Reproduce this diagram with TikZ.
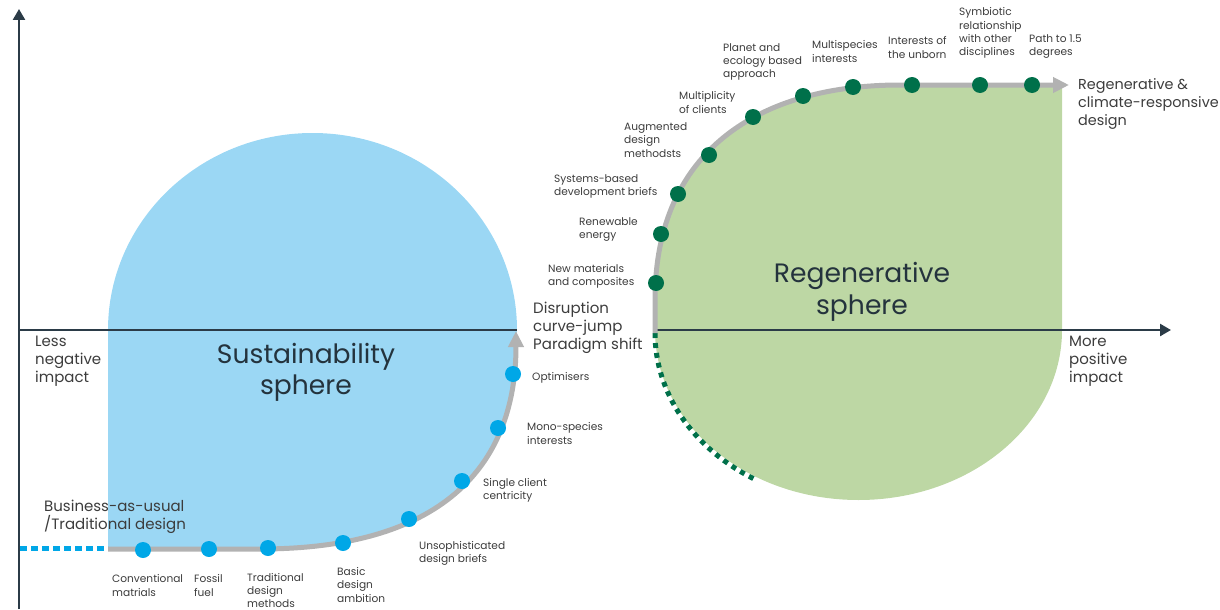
\documentclass[tikz,border=0pt]{standalone}
\usepackage{fontspec}
\setmainfont{Poppins}
\usetikzlibrary{arrows.meta}
\definecolor{axiscol}{HTML}{2B3B47}
\definecolor{txt}{HTML}{3C3C3C}
\definecolor{bigtxt}{HTML}{24333D}
\definecolor{bluefill}{HTML}{9BD7F4}
\definecolor{bluedot}{HTML}{00A7E7}
\definecolor{greenfill}{HTML}{BDD7A4}
\definecolor{greendot}{HTML}{00704A}
\definecolor{pathgrey}{HTML}{B2B2B2}
\begin{document}
\begin{tikzpicture}[x=1pt,y=-1pt,
  axis/.style={draw=axiscol, line width=2.5pt},
  axisarrow/.style={axis, -{Triangle[length=11pt,width=12pt]}},
  greypath/.style={draw=pathgrey, line width=5pt, -{Triangle[length=16pt,width=15pt]}},
  bdot/.style={circle, fill=bluedot, minimum size=16pt, inner sep=0},
  gdot/.style={circle, fill=greendot, minimum size=16pt, inner sep=0},
  small/.style={font=\fontsize{10.6}{13.3}\selectfont, text=txt, align=left, anchor=west, inner sep=0},
  mid/.style={font=\fontsize{15}{18}\selectfont, text=txt, align=left, anchor=west, inner sep=0},
  big/.style={font=\fontsize{26.6}{31.5}\selectfont, text=bigtxt, align=center, inner sep=0}]
\useasboundingbox (0,0) rectangle (1220,610);

% sustainability sphere fill
\fill[bluefill] (108,549) -- (108,330) arc[start angle=180, end angle=360, x radius=204.5, y radius=197]
  -- (516,340) .. controls (516,450) and (460,549) .. (260,549) -- cycle;
% regenerative sphere fill
\fill[greenfill] (655,330) -- (655,300) .. controls (655,150) and (760,85) .. (900,85) -- (1062,85)
  -- (1062,330) arc[start angle=0, end angle=180, x radius=203.5, y radius=170] -- cycle;

% dotted continuations
\draw[bluedot, line width=5pt, dash pattern=on 7pt off 4pt] (20,548) -- (108,548);
\draw[greendot, line width=5pt, dash pattern=on 5pt off 5pt] (655,333) arc[start angle=180, end angle=121, x radius=203.5, y radius=170];

% axes
\coordinate (origin) at (19,330);
\coordinate (ytop) at (19,9);
\coordinate (ybot) at (19,609);
\coordinate (xleftend) at (517,330);
\coordinate (xrightstart) at (653,330);
\coordinate (xend) at (1171,330);
\draw[axisarrow] (ybot) -- (ytop);
\draw[axis] (origin) -- (xleftend);
\draw[axisarrow] (xrightstart) -- (xend);

% grey curves
\draw[greypath] (108,549) -- (260,549) .. controls (460,549) and (516,450) .. (516,331);
\draw[greypath] (655,333) -- (655,300) .. controls (655,150) and (760,85) .. (900,85) -- (1069,85);

% blue dots
\node[bdot] (b1) at (143,550) {};
\node[bdot] (b2) at (209,549) {};
\node[bdot] (b3) at (268,548) {};
\node[bdot] (b4) at (343,543) {};
\node[bdot] (b5) at (409,519) {};
\node[bdot] (b6) at (462,481) {};
\node[bdot] (b7) at (498,428) {};
\node[bdot] (b8) at (513,374) {};

% green dots
\node[gdot] (g1) at (656,283) {};
\node[gdot] (g2) at (661,234) {};
\node[gdot] (g3) at (678,194) {};
\node[gdot] (g4) at (709,155) {};
\node[gdot] (g5) at (753,117) {};
\node[gdot] (g6) at (803,96) {};
\node[gdot] (g7) at (853,87) {};
\node[gdot] (g8) at (912,85) {};
\node[gdot] (g9) at (980,85) {};
\node[gdot] (g10) at (1032,85) {};

% big labels
\node[big] (sust) at (306,372.5) {Sustainability\\sphere};
\node[big] (regen) at (862,292) {Regenerative\\sphere};

% medium labels
\node[mid] (less) at (35,361) {Less\\negative\\impact};
\node[mid] (bau) at (44,516.5) {Business-as-usual\\/Traditional design};
\node[mid] (disr) at (533,328) {Disruption\\curve-jump\\Paradigm shift};
\node[mid, font=\fontsize{14.4}{18}\selectfont] (regdesign) at (1078,103.5) {Regenerative \&\\climate-responsive\\design};
\node[mid] (more) at (1069,361) {More\\positive\\impact};

% small labels (sustainability)
\node[small] (l1) at (112,585.5) {Conventional\\matrials};
\node[small] (l2) at (194,585.5) {Fossil\\fuel};
\node[small] (l3) at (247,590.5) {Traditional\\design\\methods};
\node[small] (l4) at (337,585) {Basic\\design\\ambition};
\node[small] (l5) at (419,553.5) {Unsophisticated\\design briefs};
\node[small] (l6) at (483,490.5) {Single client\\centricity};
\node[small] (l7) at (527,433.5) {Mono-species\\interests};
\node[small] (l8) at (532,378) {Optimisers};

% small labels (regenerative)
\node[small] (r1) at (548,276) {New materials\\and composites};
\node[small] (r2) at (579,229.5) {Renewable\\energy};
\node[small] (r3) at (554,186.5) {Systems-based\\development briefs};
\node[small] (r4) at (624,140) {Augmented\\design\\methodsts};
\node[small] (r5) at (679,102.5) {Multiplicity\\of clients};
\node[small] (r6) at (723,62) {Planet and\\ecology based\\approach};
\node[small] (r7) at (812,51.5) {Multispecies\\interests};
\node[small] (r8) at (888,47.5) {Interests of\\the unborn};
\node[small] (r9) at (959,33) {Symbiotic\\relationship\\with other\\disciplines};
\node[small] (r10) at (1029,46.5) {Path to 1.5\\degrees};
\end{tikzpicture}
\end{document}
